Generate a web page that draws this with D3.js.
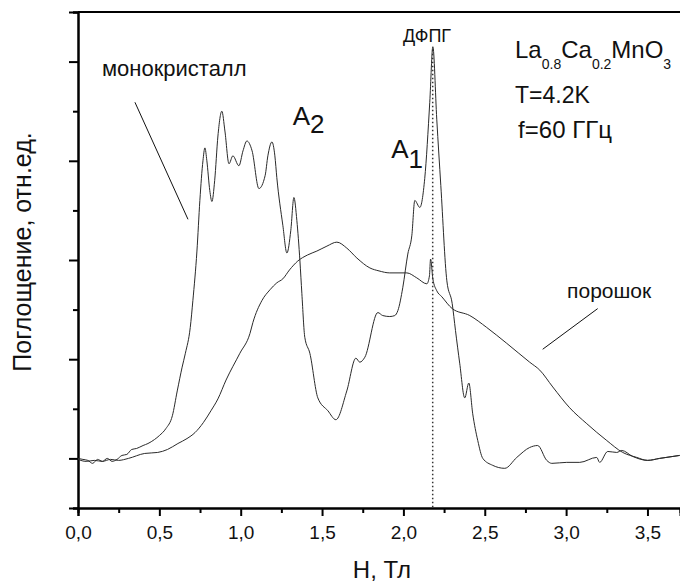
<!DOCTYPE html>
<html>
<head>
<meta charset="utf-8">
<script src="https://cdn.jsdelivr.net/npm/d3@7"></script>
<style>
  body { margin: 0; background: #fff; }
  svg text { font-family: "Liberation Sans", Arial, sans-serif; fill: #111; }
</style>
</head>
<body>
<svg id="chart" width="680" height="582"></svg>
<script>
// монокристалл: поле H (Тл) и поглощение (отн.ед.)
var monoH = [0.00, 0.03, 0.06, 0.09, 0.12, 0.15, 0.18, 0.21, 0.24, 0.27, 0.30, 0.33, 0.36, 0.40, 0.43, 0.47, 0.50, 0.54, 0.58, 0.61,
    0.64, 0.66, 0.69, 0.706, 0.731, 0.749, 0.768, 0.780, 0.792, 0.810, 0.823, 0.840, 0.860, 0.884, 0.903, 0.928, 0.952, 0.989, 1.014, 1.038,
    1.070, 1.112, 1.150, 1.167, 1.192, 1.210, 1.222, 1.259, 1.284, 1.308, 1.327, 1.345, 1.364, 1.376, 1.394, 1.425, 1.474, 1.536, 1.585, 1.652,
    1.708, 1.732, 1.763, 1.843, 1.873, 1.916, 1.947, 1.966, 1.996, 2.027, 2.052, 2.070, 2.101, 2.131, 2.162, 2.181, 2.205, 2.230, 2.267, 2.300,
    2.320, 2.346, 2.377, 2.402, 2.426, 2.457, 2.488, 2.549, 2.623, 2.697, 2.776, 2.825, 2.881, 2.912, 3.004, 3.084, 3.188, 3.206, 3.256, 3.311,
    3.342, 3.409, 3.501, 3.575, 3.698];
var monoA = [0.00, -0.01, -0.02, -0.05, -0.01, -0.03, 0.00, -0.03, -0.01, 0.03, 0.04, 0.09, 0.10, 0.13, 0.15, 0.19, 0.23, 0.30, 0.43, 0.68,
    0.92, 1.06, 1.32, 1.59, 2.09, 2.60, 3.00, 3.13, 3.00, 2.70, 2.59, 2.80, 3.25, 3.50, 3.30, 2.97, 3.05, 2.95, 3.10, 3.20,
    3.10, 2.72, 2.85, 3.05, 3.19, 3.05, 2.83, 2.35, 2.07, 2.30, 2.63, 2.40, 1.99, 1.66, 1.22, 1.06, 0.61, 0.48, 0.39, 0.68,
    1.01, 0.97, 1.02, 1.47, 1.44, 1.43, 1.44, 1.49, 1.72, 2.06, 2.25, 2.60, 2.53, 2.82, 3.59, 4.15, 3.42, 2.75, 1.79, 1.56,
    1.29, 0.96, 0.61, 0.76, 0.45, 0.18, 0.00, -0.07, -0.10, 0.01, 0.11, 0.13, -0.02, -0.05, -0.04, -0.04, 0.01, -0.04, 0.07, 0.06,
    0.08, 0.02, -0.02, 0.00, 0.03];

// порошок
var powderH = [0.00, 0.05, 0.10, 0.15, 0.20, 0.25, 0.31, 0.41, 0.49, 0.55, 0.614, 0.67, 0.719, 0.77, 0.817, 0.86, 0.91, 0.995, 1.057, 1.075,
    1.13, 1.18, 1.222, 1.259, 1.30, 1.351, 1.41, 1.468, 1.53, 1.591, 1.652, 1.714, 1.794, 1.85, 1.916, 2.021, 2.082, 2.144, 2.160, 2.167,
    2.181, 2.205, 2.236, 2.30, 2.408, 2.512, 2.635, 2.776, 2.838, 2.918, 3.022, 3.127, 3.25, 3.348, 3.434, 3.501, 3.575, 3.698];
var powderA = [-0.01, -0.03, -0.02, -0.03, -0.01, -0.02, 0.00, 0.05, 0.06, 0.09, 0.15, 0.20, 0.26, 0.36, 0.48, 0.60, 0.79, 1.06, 1.26, 1.37,
    1.59, 1.70, 1.77, 1.81, 1.90, 1.99, 2.05, 2.09, 2.14, 2.18, 2.12, 2.02, 1.92, 1.89, 1.87, 1.87, 1.82, 1.76, 1.84, 2.01,
    1.81, 1.69, 1.63, 1.51, 1.44, 1.32, 1.16, 0.97, 0.89, 0.72, 0.51, 0.35, 0.18, 0.06, 0.01, -0.02, 0.00, 0.03];

var xMajor = [0, 0.5, 1.0, 1.5, 2.0, 2.5, 3.0, 3.5];
var xMinor = [0.25, 0.75, 1.25, 1.75, 2.25, 2.75, 3.25];
var yMajor = [0, 1, 2, 3, 4];
var yMinor = [-0.5, 0.5, 1.5, 2.5, 3.5, 4.5];
var dpphField = 2.18;

var svg = d3.select('#chart');
var x = d3.scaleLinear().domain([0, 3.7]).range([78, 680]);
var y = d3.scaleLinear().domain([-0.5, 4.5]).range([508, 12]);

var fmt = function(d) { return d3.format('.1f')(d).replace('.', ','); };

// оси
var gx = svg.append('g').attr('transform', 'translate(0,' + y(-0.5) + ')');
gx.call(d3.axisBottom(x).tickValues(xMajor).tickSize(8).tickPadding(10).tickFormat(fmt));
gx.append('g').call(d3.axisBottom(x).tickValues(xMinor).tickSize(5).tickFormat(''));
gx.selectAll('.domain').attr('stroke-width', 2);
gx.selectAll('.tick line').attr('stroke-width', 2);
gx.selectAll('.tick text').attr('font-size', 19).attr('font-family', '"Liberation Sans", Arial, sans-serif').attr('fill', '#111');

var gy = svg.append('g').attr('transform', 'translate(' + x(0) + ',0)');
gy.call(d3.axisLeft(y).tickValues(yMajor).tickSize(9).tickFormat(''));
gy.append('g').call(d3.axisLeft(y).tickValues(yMinor).tickSize(5).tickFormat(''));
gy.selectAll('.domain').attr('stroke-width', 2);
gy.selectAll('.tick line').attr('stroke-width', 2);

svg.append('line').attr('x1', x(0)).attr('x2', x(3.7)).attr('y1', y(4.5)).attr('y2', y(4.5))
    .attr('stroke', '#000').attr('stroke-width', 2);

// кривые
var line = d3.line().x(function(d) { return x(d[0]); }).y(function(d) { return y(d[1]); }).curve(d3.curveMonotoneX);
var mono = d3.zip(monoH, monoA);
var powder = d3.zip(powderH, powderA);

svg.append('path').datum(powder).attr('d', line).attr('fill', 'none').attr('stroke', '#2a2a2a').attr('stroke-width', 1);
svg.append('path').datum(mono).attr('d', line).attr('fill', 'none').attr('stroke', '#2a2a2a').attr('stroke-width', 1);

// ДФПГ
svg.append('line').attr('x1', x(dpphField)).attr('x2', x(dpphField)).attr('y1', y(4.12)).attr('y2', y(-0.5))
    .attr('stroke', '#333').attr('stroke-width', 1.5).attr('stroke-dasharray', '1.5,2.5');

// подписи
svg.append('text').attr('x', x(2.145)).attr('y', y(4.2)).attr('text-anchor', 'middle').attr('font-size', 18).text('ДФПГ');

svg.append('text').attr('x', x(0.147)).attr('y', y(3.85)).attr('font-size', 22).text('монокристалл');
svg.append('line').attr('x1', x(0.350)).attr('y1', y(3.59)).attr('x2', x(0.676)).attr('y2', y(2.41))
    .attr('stroke', '#111').attr('stroke-width', 1);

svg.append('text').attr('x', x(3.006)).attr('y', y(1.62)).attr('font-size', 21).text('порошок');
svg.append('line').attr('x1', x(3.194)).attr('y1', y(1.51)).attr('x2', x(2.856)).attr('y2', y(1.10))
    .attr('stroke', '#111').attr('stroke-width', 1);

var a2 = svg.append('text').attr('x', x(1.32)).attr('y', y(3.36)).attr('font-size', 26);
a2.append('tspan').text('A');
a2.append('tspan').attr('dy', 8).text('2');

var a1 = svg.append('text').attr('x', x(1.925)).attr('y', y(3.03)).attr('font-size', 26);
a1.append('tspan').text('A');
a1.append('tspan').attr('dy', 10).text('1');

var formula = svg.append('text').attr('x', x(2.686)).attr('y', y(4.04)).attr('font-size', 24);
[['La', ''], ['0.8', 's'], ['Ca', ''], ['0.2', 's'], ['MnO', ''], ['3', 's']].forEach(function(p, i) {
    var t = formula.append('tspan').text(p[0]);
    if (p[1] === 's') t.attr('font-size', 14).attr('dy', 11);
    else if (i > 0) t.attr('dy', -11);
});

svg.append('text').attr('x', x(2.686)).attr('y', y(3.58)).attr('font-size', 23).text('T=4.2K');
svg.append('text').attr('x', x(2.705)).attr('y', y(3.23)).attr('font-size', 24).text('f=60 ГГц');

// названия осей
svg.append('text').attr('x', 382).attr('y', 578).attr('text-anchor', 'middle').attr('font-size', 24).text('H, Тл');
svg.append('text').attr('transform', 'translate(31,252) rotate(-90)').attr('text-anchor', 'middle')
    .attr('font-size', 25).text('Поглощение, отн.ед.');
</script>
</body>
</html>
